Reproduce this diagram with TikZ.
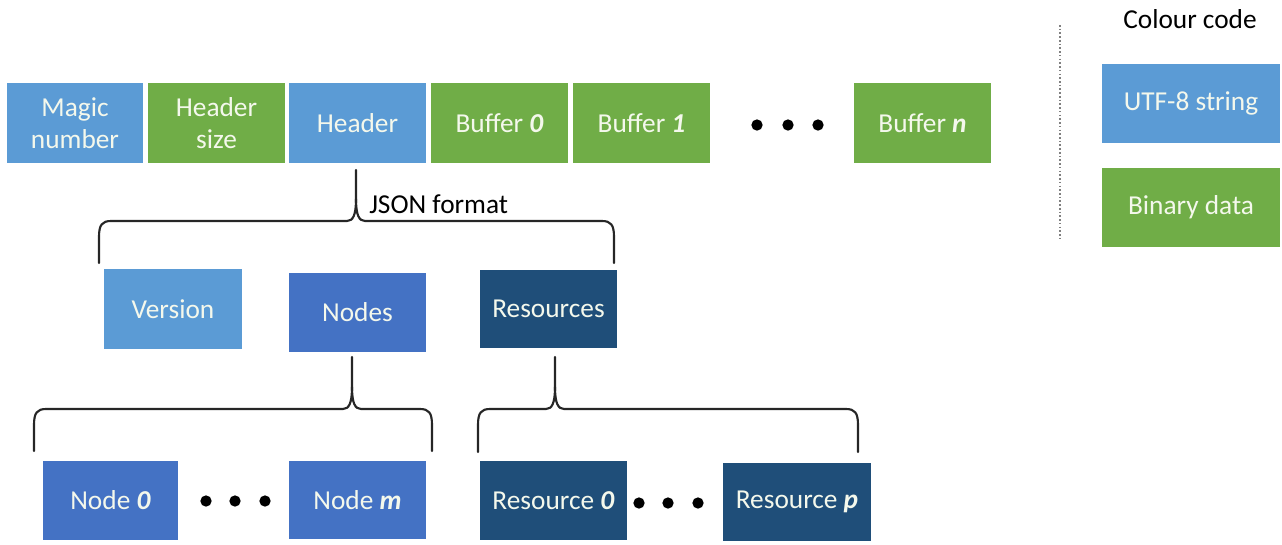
\documentclass[tikz,border=0pt]{standalone}
\usepackage{fontspec}
\setmainfont{Carlito}
\definecolor{lblue}{HTML}{5B9BD5}
\definecolor{vblue}{HTML}{5B9BD5}
\definecolor{green}{HTML}{70AD47}
\definecolor{nblue}{HTML}{4472C4}
\definecolor{dblue}{HTML}{1F4E79}
\definecolor{boxtext}{HTML}{F4F8EC}
\newcommand\jbrace[6]{% xl xr xt yh yb ys
  \draw[bracestyle] (#1,#5) -- (#1,#4+16) .. controls (#1,#4+4) and (#1+3,#4) .. (#1+12,#4) -- (#3-9,#4) .. controls (#3-3,#4) and (#3,#4-6) .. (#3,#4-22) -- (#3,#6);
  \draw[bracestyle] (#2,#5) -- (#2,#4+16) .. controls (#2,#4+4) and (#2-3,#4) .. (#2-12,#4) -- (#3+9,#4) .. controls (#3+3,#4) and (#3,#4-6) .. (#3,#4-22);
}
\begin{document}
\begin{tikzpicture}[x=0.75pt,y=-0.75pt,
  bx/.style={rectangle, inner sep=0pt, text=boxtext, font=\fontsize{20.5}{24}\selectfont, align=center},
  sz/.style 2 args={minimum width=#1*0.75pt, minimum height=#2*0.75pt},
  dotn/.style={circle, fill=black, inner sep=0pt, minimum size=8.5pt},
  bracestyle/.style={draw=black!85, line width=1.6pt, line join=round, line cap=round},
  lbl/.style={font=\fontsize{20.5}{24}\selectfont, text=black, inner sep=0pt}]
\useasboundingbox (0,0) rectangle (1282,544);
% top row
\node[bx, fill=lblue, sz={136}{80}] (magic) at (75,123) {Magic\\number};
\node[bx, fill=green, sz={137}{80}] (hsize) at (216.5,123) {Header\\size};
\node[bx, fill=lblue, sz={137}{80}] (header) at (357.5,123) {Header};
\node[bx, fill=green, sz={137}{80}] (buf0) at (499.5,123) {Buffer \textbf{\textit{0}}};
\node[bx, fill=green, sz={137}{80}] (buf1) at (641.5,123) {Buffer \textbf{\textit{1}}};
\node[dotn] (td1) at (757,125) {};
\node[dotn] (td2) at (788,125) {};
\node[dotn] (td3) at (818,125) {};
\node[bx, fill=green, sz={137}{80}] (bufn) at (922.5,123) {Buffer \textbf{\textit{n}}};
% legend
\node[lbl] (cc) at (1190,19) {Colour code};
\draw[gray, line width=0.9pt, dash pattern=on 1.2pt off 1.6pt] (1060,25) -- (1060,240);
\node[bx, fill=lblue, sz={178}{79}] (utf) at (1191,103.5) {UTF-8 string};
\node[bx, fill=green, sz={178}{79}] (bin) at (1191,207.5) {Binary data};
% JSON level
\node[lbl, anchor=west] (json) at (369,204) {JSON format};
\node[bx, fill=vblue, sz={138}{80}] (version) at (173,309) {Version};
\node[bx, fill=nblue, sz={137}{79}] (nodes) at (357.5,312.5) {Nodes};
\node[bx, fill=dblue, sz={137}{78}] (res) at (548.5,309) {Resources};
% bottom level
\node[bx, fill=nblue, sz={135}{79}] (node0) at (110.5,500.5) {Node \textbf{\textit{0}}};
\node[dotn] (nd1) at (206,501) {};
\node[dotn] (nd2) at (235,501) {};
\node[dotn] (nd3) at (265,501) {};
\node[bx, fill=nblue, sz={137}{78}] (nodem) at (357.5,500) {Node \textbf{\textit{m}}};
\node[bx, fill=dblue, sz={147}{79}] (res0) at (553.5,500.5) {Resource \textbf{\textit{0}}};
\node[dotn] (rd1) at (639,503) {};
\node[dotn] (rd2) at (668,503) {};
\node[dotn] (rd3) at (698,503) {};
\node[bx, fill=dblue, sz={148}{78}] (resp) at (797,502) {Resource \textbf{\textit{p}}};
% braces
\jbrace{99}{614}{356}{221}{263}{170}
\jbrace{34}{432}{352}{409}{451}{357}
\jbrace{478}{858}{555}{409}{452}{357}
\end{tikzpicture}
\end{document}
